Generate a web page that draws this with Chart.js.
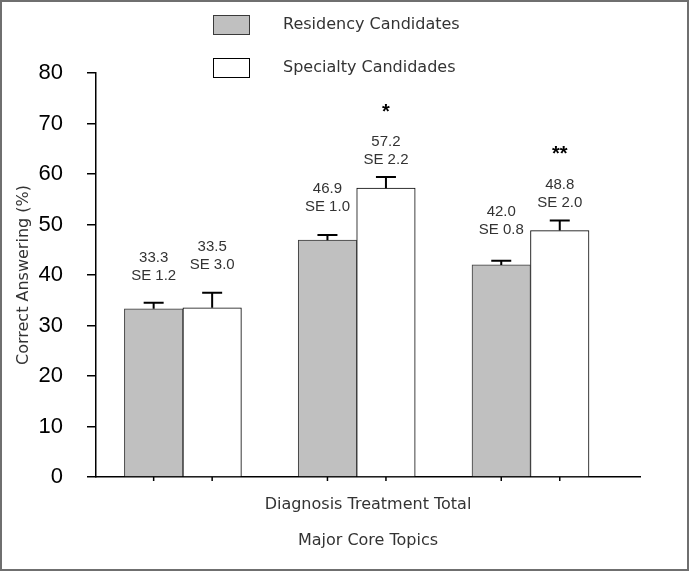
<!DOCTYPE html>
<html>
<head>
<meta charset="utf-8">
<script src="https://cdn.jsdelivr.net/npm/chart.js@4/dist/chart.umd.min.js"></script>
<style>
  html, body { margin: 0; padding: 0; background: #fff; }
  #wrap { width: 689px; height: 571px; }
</style>
</head>
<body>
<div id="wrap"><canvas id="chart" width="689" height="571"></canvas></div>
<script>
const categories = ['Diagnosis', 'Treatment', 'Total'];
const seriesNames = ['Residency Candidates', 'Specialty Candidades'];
const residency = [33.3, 46.9, 42.0];
const specialty = [33.5, 57.2, 48.8];
const residencySE = [1.2, 1.0, 0.8];
const specialtySE = [3.0, 2.2, 2.0];
const stars = ['', '*', '**'];

const titleFont = 'DejaVu Sans';
const numFont = 'Liberation Sans';

// error bars, value labels, little x ticks, legend and frame
const extras = {
    id: 'extras',
    afterDatasetsDraw(chart, args, opts) {
        const ctx = chart.ctx;
        const y = chart.scales.y;
        const bottom = chart.chartArea.bottom;
        ctx.save();
        chart.data.datasets.forEach((ds, d) => {
            const meta = chart.getDatasetMeta(d);
            meta.data.forEach((bar, i) => {
                const top = y.getPixelForValue(ds.data[i].y + ds.se[i]);
                // tick under the axis
                ctx.strokeStyle = '#000';
                ctx.lineWidth = 1.5;
                ctx.beginPath();
                ctx.moveTo(bar.x, bottom);
                ctx.lineTo(bar.x, bottom + 4);
                ctx.stroke();
                // error bar
                ctx.lineWidth = 2;
                ctx.beginPath();
                ctx.moveTo(bar.x, bar.y);
                ctx.lineTo(bar.x, top);
                ctx.moveTo(bar.x - 10, top);
                ctx.lineTo(bar.x + 10, top);
                ctx.stroke();
                // labels
                const gap = opts.gaps[d][i];
                ctx.fillStyle = '#333';
                ctx.font = '15px "' + numFont + '"';
                ctx.textAlign = 'center';
                ctx.textBaseline = 'middle';
                ctx.fillText('SE ' + ds.se[i].toFixed(1), bar.x, top - gap);
                ctx.fillText(ds.data[i].y.toFixed(1), bar.x, top - gap - 18);
                if (d === 1 && stars[i]) {
                    ctx.fillStyle = '#000';
                    ctx.font = 'bold 20px "' + numFont + '"';
                    ctx.fillText(stars[i], bar.x, top - gap - 18 - 30);
                }
            });
        });
        ctx.restore();
    },
    afterDraw(chart, args, opts) {
        const ctx = chart.ctx;
        ctx.save();
        chart.data.datasets.forEach((ds, d) => {
            const by = opts.legendY[d];
            ctx.fillStyle = ds.backgroundColor;
            ctx.fillRect(213, by, 37, 20);
            ctx.strokeStyle = ds.borderColor;
            ctx.lineWidth = 1;
            ctx.strokeRect(213.5, by + 0.5, 36, 19);
            ctx.fillStyle = '#333';
            ctx.font = '16px "' + titleFont + '"';
            ctx.textAlign = 'left';
            ctx.textBaseline = 'middle';
            ctx.fillText(ds.label, 283, by + 10);
        });
        ctx.strokeStyle = '#6f6f6f';
        ctx.lineWidth = 2;
        ctx.strokeRect(1, 1, chart.width - 2, chart.height - 2);
        ctx.restore();
    }
};

const ctx = document.getElementById('chart').getContext('2d');

new Chart(ctx, {
    type: 'bar',
    data: {
        datasets: [{
            label: seriesNames[0],
            data: residency.map((v, i) => ({ x: i + 0.5, y: v })),
            se: residencySE,
            backgroundColor: '#c0c0c0',
            borderColor: '#3a3a3a',
            borderWidth: 1,
            barThickness: 58.5
        }, {
            label: seriesNames[1],
            data: specialty.map((v, i) => ({ x: i + 0.5, y: v })),
            se: specialtySE,
            backgroundColor: '#ffffff',
            borderColor: '#000000',
            borderWidth: 1,
            barThickness: 58.5
        }]
    },
    options: {
        responsive: false,
        animation: false,
        layout: { padding: { top: 73, right: 49, bottom: 0, left: 0 } },
        plugins: {
            legend: { display: false },
            tooltip: { enabled: false },
            extras: {
                gaps: [[27, 28, 31], [28, 17, 18]],
                legendY: [15, 58]
            }
        },
        scales: {
            x: {
                type: 'linear',
                offset: false,
                min: 0,
                max: 3.13,
                ticks: { display: false },
                grid: { display: false, drawTicks: false },
                border: { display: true, color: '#000', width: 1.5 },
                title: {
                    display: true,
                    text: [categories.join(' '), 'Major Core Topics'],
                    color: '#333',
                    font: { family: titleFont, size: 16, lineHeight: 2.2 },
                    padding: { top: 0, bottom: 13 }
                },
                afterFit: s => { s.height = 94; }
            },
            y: {
                min: 0,
                max: 80,
                ticks: {
                    stepSize: 10,
                    color: '#000',
                    padding: 24,
                    font: { family: numFont, size: 22 }
                },
                grid: { drawOnChartArea: false, tickLength: 9, color: '#000', lineWidth: 1.5 },
                border: { color: '#000', width: 1.5 },
                title: {
                    display: true,
                    text: 'Correct Answering (%)',
                    color: '#333',
                    font: { family: titleFont, size: 16 },
                    padding: { top: 14 }
                },
                afterFit: s => { s.width = 96; }
            }
        }
    },
    plugins: [extras]
});
</script>
</body>
</html>
